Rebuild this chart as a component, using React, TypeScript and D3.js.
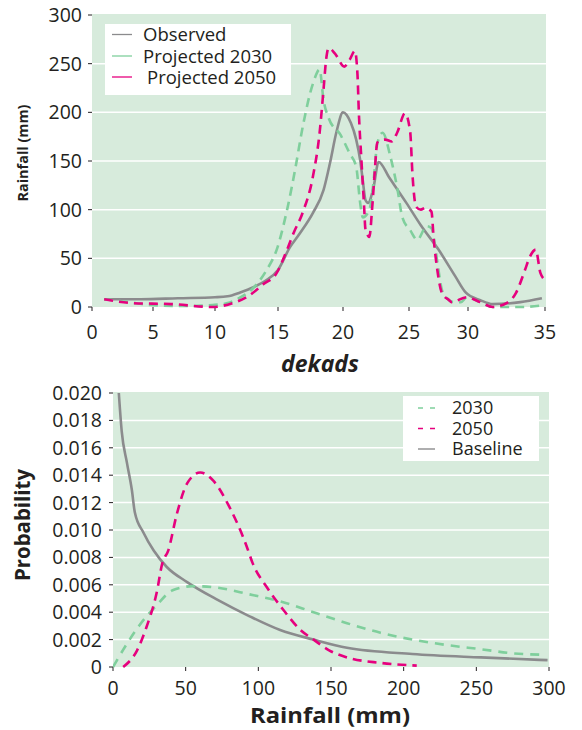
import * as d3 from "d3";

// ---- top panel: rainfall per dekad ----
const dekadTicks = [0, 5, 10, 15, 20, 25, 30, 35];
const rainTicksTop = [0, 50, 100, 150, 200, 250, 300];

const observed: [number, number][] = [
  [1, 8], [4, 8], [7, 9], [10, 10], [11, 11], [12, 15], [13, 20], [14, 27],
  [15, 38], [15.9, 61], [16.7, 76], [17.7, 97], [18.5, 120], [19, 148],
  [19.5, 180], [20, 200], [20.6, 189], [21, 172], [21.3, 151], [21.5, 130],
  [21.7, 110], [21.9, 107], [22.3, 122], [22.7, 149], [23.5, 133],
  [24.8, 107], [26, 84], [27.5, 59], [28.9, 32], [29.8, 15], [30.8, 7],
  [31.6, 3], [33.4, 5], [34.8, 9],
];

const projected2030: [number, number][] = [
  [1, 8], [3, 5], [4.8, 2], [7.8, 1], [9.8, 2], [11, 4], [11.9, 9], [13, 19],
  [14.1, 38], [14.9, 59], [15.7, 100], [16.3, 140], [16.9, 185], [17.7, 230],
  [18.2, 244], [18.5, 213], [18.9, 194], [19.8, 177], [20.5, 158], [21, 144],
  [21.3, 107], [21.5, 92], [22, 100], [22.3, 127], [22.6, 168], [23, 179],
  [23.6, 154], [24.1, 123], [24.5, 92], [25.1, 79], [25.7, 69], [26.5, 83],
  [26.9, 81], [27.3, 55], [27.5, 38], [27.8, 17], [28.3, 8], [28.8, 5],
  [29.4, 5], [29.9, 10], [30.8, 5], [31.6, 0], [33.4, 0], [35, 2],
];

const projected2050: [number, number][] = [
  [1, 8], [3.3, 4], [6.5, 3], [9.8, 0], [11.4, 4], [12.5, 10], [13.8, 23],
  [14.9, 35], [15.7, 59], [16.2, 76], [16.9, 97], [17.7, 135], [18.2, 179],
  [18.5, 223], [18.7, 254], [18.9, 266], [19.4, 260], [20.1, 247],
  [20.5, 254], [20.9, 263], [21.1, 238], [21.2, 200], [21.4, 150],
  [21.6, 103], [21.7, 80], [22, 72], [22.2, 100], [22.4, 138], [22.6, 169],
  [23.2, 172], [23.7, 170], [24.1, 179], [24.7, 199], [25.1, 180],
  [25.3, 135], [25.6, 103], [26, 100], [26.4, 102], [26.9, 98], [27.1, 69],
  [27.4, 38], [27.8, 14], [28.4, 7], [28.6, 5], [29.9, 10], [30.8, 5],
  [31.6, 0], [32.5, 4], [33.1, 14], [33.7, 38], [34, 51], [34.4, 59],
  [34.7, 35], [35, 28],
];

// ---- bottom panel: probability of rainfall ----
const rainTicksBottom = [0, 50, 100, 150, 200, 250, 300];
const probTicks = [0, 0.002, 0.004, 0.006, 0.008, 0.01, 0.012, 0.014, 0.016, 0.018, 0.02];

const baseline: [number, number][] = [
  [4, 0.02], [6, 0.0172], [9.6, 0.0149], [13, 0.0129], [15, 0.0113],
  [21, 0.0098], [28, 0.0085], [37, 0.0073], [51, 0.0062], [72, 0.0049],
  [94, 0.0037], [115, 0.0027], [138, 0.002], [161, 0.0014], [206, 0.00095],
  [253, 0.0007], [299, 0.0005],
];

const dist2030: [number, number][] = [
  [0, 0], [9.6, 0.0017], [18.6, 0.0031], [30, 0.0045], [41, 0.0056],
  [55, 0.0059], [71, 0.0058], [94, 0.0053], [115, 0.0048], [138, 0.004],
  [161, 0.0032], [184, 0.0025], [206, 0.002], [230, 0.0016], [253, 0.0013],
  [275, 0.001], [294, 0.0009],
];

const dist2050: [number, number][] = [
  [7, 0], [16.5, 0.0012], [23, 0.0029], [30, 0.0054], [34, 0.0076],
  [38, 0.0085], [44, 0.0112], [51, 0.0134], [60, 0.0142], [69, 0.0136],
  [80, 0.0117], [92, 0.0088], [96, 0.0076], [106, 0.0058], [117, 0.0042],
  [129, 0.0027], [138, 0.002], [149, 0.0012], [161, 0.0007], [184, 0.0003],
  [209, 0.0001],
];

const BG = "#d7ebdc";
const GREY = "#8b8b8d";
const GREEN = "#7fcf9c";
const PINK = "#e6007e";
const TEXT = "#231f20";
const FONT = "'Open Sans', sans-serif";

export default function App() {
  // top panel geometry (tick positions in the original are slightly uneven)
  const t = { left: 92, right: 546, top: 14, bottom: 307 };
  const xTop = d3
    .scaleLinear()
    .domain(dekadTicks)
    .range([92, 153, 215, 278, 343, 409, 468, 545]);
  const yTop = d3.scaleLinear().domain([0, 300]).range([t.bottom, 15]);
  const lineTop = d3
    .line<[number, number]>()
    .x((d) => xTop(d[0]))
    .y((d) => yTop(d[1]))
    .curve(d3.curveMonotoneX);

  // bottom panel geometry
  const b = { left: 113, right: 549, top: 392, bottom: 667 };
  const xBot = d3.scaleLinear().domain([0, 300]).range([b.left, b.right]);
  const yBot = d3.scaleLinear().domain([0, 0.02]).range([b.bottom, 393]);
  const lineBot = d3
    .line<[number, number]>()
    .x((d) => xBot(d[0]))
    .y((d) => yBot(d[1]))
    .curve(d3.curveMonotoneX);

  const probFmt = (d: number) => (d === 0 ? "0" : d.toFixed(3));

  return (
    <svg
      width={582}
      height={730}
      style={{ position: "absolute", left: 0, top: 0, background: "#fff" }}
      fontFamily={FONT}
    >
      <defs>
        <clipPath id="clipTop">
          <rect x={t.left} y={t.top} width={t.right - t.left} height={t.bottom - t.top + 2} />
        </clipPath>
        <clipPath id="clipBot">
          <rect x={b.left} y={b.top} width={b.right - b.left} height={b.bottom - b.top + 2} />
        </clipPath>
      </defs>

      {/* ---------- top panel ---------- */}
      <rect x={t.left} y={t.top} width={t.right - t.left} height={t.bottom - t.top} fill={BG} />
      {rainTicksTop.slice(1, -1).map((v) => (
        <line key={v} x1={t.left} x2={t.right} y1={yTop(v)} y2={yTop(v)} stroke="#fff" strokeWidth={1.5} />
      ))}
      {rainTicksTop.map((v) => (
        <g key={v}>
          <line x1={t.left - 4} x2={t.left} y1={yTop(v)} y2={yTop(v)} stroke={TEXT} strokeWidth={1} />
          <text x={82} y={yTop(v)} dy="0.36em" textAnchor="end" fontSize={19.5} fill={TEXT}>
            {v}
          </text>
        </g>
      ))}
      {dekadTicks.map((v) => (
        <g key={v}>
          <line x1={xTop(v)} x2={xTop(v)} y1={t.bottom} y2={t.bottom + 4} stroke={TEXT} strokeWidth={1} />
          <text x={xTop(v)} y={339} textAnchor="middle" fontSize={19.5} fill={TEXT}>
            {v}
          </text>
        </g>
      ))}
      <g clipPath="url(#clipTop)" fill="none" strokeWidth={2.6}>
        <path d={lineTop(observed) ?? ""} stroke={GREY} />
        <path d={lineTop(projected2030) ?? ""} stroke={GREEN} strokeDasharray="9 6" />
        <path d={lineTop(projected2050) ?? ""} stroke={PINK} strokeDasharray="9 6" />
      </g>
      <text
        transform="translate(28,153) rotate(-90)"
        textAnchor="middle"
        fontSize={14}
        fontWeight="bold"
        fill={TEXT}
        textLength={97}
        lengthAdjust="spacingAndGlyphs"
      >
        Rainfall (mm)
      </text>
      <text x={320} y={372} textAnchor="middle" fontSize={23} fontWeight="bold" fontStyle="italic" fill={TEXT}>
        dekads
      </text>

      {/* top legend */}
      <rect x={105} y={24} width={186} height={71} fill="#fff" />
      {[
        { label: "Observed", color: GREY, y: 34.5, tx: 143 },
        { label: "Projected 2030", color: GREEN, y: 56, tx: 143 },
        { label: "Projected 2050", color: PINK, y: 77, tx: 147 },
      ].map((l) => (
        <g key={l.label}>
          <line x1={112} x2={132} y1={l.y} y2={l.y} stroke={l.color} strokeWidth={1.3} />
          <text x={l.tx} y={l.y} dy="0.36em" fontSize={18.5} fill={TEXT}>
            {l.label}
          </text>
        </g>
      ))}

      {/* ---------- bottom panel ---------- */}
      <rect x={b.left} y={b.top} width={b.right - b.left} height={b.bottom - b.top} fill={BG} />
      {probTicks.slice(1, -1).map((v) => (
        <line key={v} x1={b.left} x2={b.right} y1={yBot(v)} y2={yBot(v)} stroke="#fff" strokeWidth={1.5} />
      ))}
      {probTicks.map((v) => (
        <g key={v}>
          <line x1={b.left - 4} x2={b.left} y1={yBot(v)} y2={yBot(v)} stroke={TEXT} strokeWidth={1} />
          <text x={102} y={yBot(v)} dy="0.36em" textAnchor="end" fontSize={19.5} fill={TEXT}>
            {probFmt(v)}
          </text>
        </g>
      ))}
      {rainTicksBottom.map((v) => (
        <g key={v}>
          <line x1={xBot(v)} x2={xBot(v)} y1={b.bottom} y2={b.bottom + 4} stroke={TEXT} strokeWidth={1} />
          <text x={xBot(v)} y={695} textAnchor="middle" fontSize={19.5} fill={TEXT}>
            {v}
          </text>
        </g>
      ))}
      <g clipPath="url(#clipBot)" fill="none" strokeWidth={2.6}>
        <path d={lineBot(baseline) ?? ""} stroke={GREY} />
        <path d={lineBot(dist2030) ?? ""} stroke={GREEN} strokeDasharray="9 7" />
        <path d={lineBot(dist2050) ?? ""} stroke={PINK} strokeDasharray="9 6" />
      </g>
      <text
        transform="translate(30,525) rotate(-90)"
        textAnchor="middle"
        fontSize={21}
        fontWeight="bold"
        fill={TEXT}
        textLength={112}
        lengthAdjust="spacingAndGlyphs"
      >
        Probability
      </text>
      <text
        x={330}
        y={723}
        textAnchor="middle"
        fontSize={22}
        fontWeight="bold"
        fill={TEXT}
        textLength={160}
        lengthAdjust="spacingAndGlyphs"
      >
        Rainfall (mm)
      </text>

      {/* bottom legend */}
      <rect x={403} y={396} width={136} height={65} fill="#fff" />
      {[
        { label: "2030", color: GREEN, y: 408, dash: "5 7" },
        { label: "2050", color: PINK, y: 428.5, dash: "5 7" },
        { label: "Baseline", color: GREY, y: 449, dash: undefined },
      ].map((l) => (
        <g key={l.label}>
          <line
            x1={418}
            x2={435}
            y1={l.y}
            y2={l.y}
            stroke={l.color}
            strokeWidth={1.4}
            strokeDasharray={l.dash}
          />
          <text x={452} y={l.y} dy="0.36em" fontSize={18} fill={TEXT}>
            {l.label}
          </text>
        </g>
      ))}
    </svg>
  );
}
